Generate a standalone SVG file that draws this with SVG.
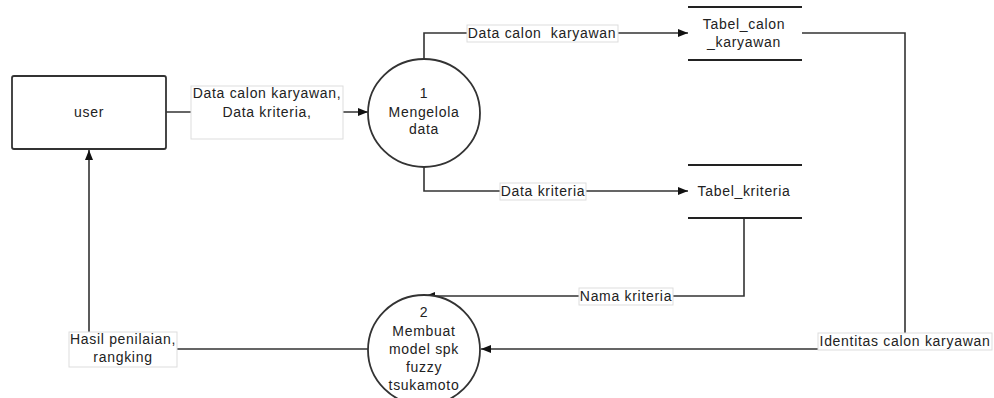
<svg xmlns="http://www.w3.org/2000/svg" width="994" height="398" viewBox="0 0 994 398">
<defs>
<marker id="arr" markerUnits="userSpaceOnUse" markerWidth="11" markerHeight="9" refX="10" refY="4" orient="auto">
<path d="M0,0 L10,4 L0,8 z" fill="#111"/>
</marker>
<style>
.t{font-family:"Liberation Sans",Arial,sans-serif;font-size:14px;letter-spacing:0.7px;fill:#222;text-anchor:middle}
.ln{fill:none;stroke:#333;stroke-width:1.6}
.lb{fill:#fff;stroke:#ddd;stroke-width:1}
.node{fill:#fff;stroke:#333;stroke-width:1.8}
.store{stroke:#222;stroke-width:1.8}
</style>
</defs>
<rect width="994" height="398" fill="#fff"/>
<g id="connectors">
<path class="ln" d="M166,112 H368" marker-end="url(#arr)"/>
<path class="ln" d="M424,60 V33 H688" marker-end="url(#arr)"/>
<path class="ln" d="M424,166 V191 H688" marker-end="url(#arr)"/>
<path class="ln" d="M802,33 H905 V349 H481" marker-end="url(#arr)"/>
<path class="ln" d="M744,218 V296 H425" marker-end="url(#arr)"/>
<path class="ln" d="M368,349 H89 V150" marker-end="url(#arr)"/>
<rect class="lb" x="191" y="86" width="152" height="53"/>
<text class="t" x="267" y="98">Data calon karyawan,</text>
<text class="t" x="267" y="117">Data kriteria,</text>
<rect class="lb" x="467" y="25" width="151" height="17"/>
<text class="t" x="542" y="38" xml:space="preserve">Data calon  karyawan</text>
<rect class="lb" x="500" y="183" width="86" height="17"/>
<text class="t" x="543" y="196">Data kriteria</text>
<rect class="lb" x="579" y="288" width="94" height="17"/>
<text class="t" x="626" y="301">Nama kriteria</text>
<rect class="lb" x="818" y="333" width="174" height="17"/>
<text class="t" x="905" y="346">Identitas calon karyawan</text>
<rect class="lb" x="69" y="332" width="108" height="35"/>
<text class="t" x="123" y="344">Hasil penilaian,</text>
<text class="t" x="123" y="362">rangking</text>
</g>
<g id="user">
<rect class="node" x="12" y="76" width="154" height="73" rx="2"/>
<text class="t" x="89" y="117">user</text>
</g>
<g id="p1">
<ellipse class="node" cx="424" cy="113" rx="56" ry="54"/>
<text class="t" x="424" y="98">1</text>
<text class="t" x="424" y="117">Mengelola</text>
<text class="t" x="424" y="134">data</text>
</g>
<g id="p2">
<ellipse class="node" cx="424" cy="350" rx="56" ry="55"/>
<text class="t" x="424" y="317">2</text>
<text class="t" x="424" y="336">Membuat</text>
<text class="t" x="424" y="354">model spk</text>
<text class="t" x="424" y="372">fuzzy</text>
<text class="t" x="424" y="390">tsukamoto</text>
</g>
<g id="tabel_calon">
<line class="store" x1="688" y1="7" x2="802" y2="7"/>
<line class="store" x1="688" y1="60" x2="802" y2="60"/>
<text class="t" x="744" y="29">Tabel_calon</text>
<text class="t" x="744" y="47">_karyawan</text>
</g>
<g id="tabel_kriteria">
<line class="store" x1="688" y1="165" x2="802" y2="165"/>
<line class="store" x1="688" y1="218" x2="802" y2="218"/>
<text class="t" x="744" y="196">Tabel_kriteria</text>
</g>
</svg>
